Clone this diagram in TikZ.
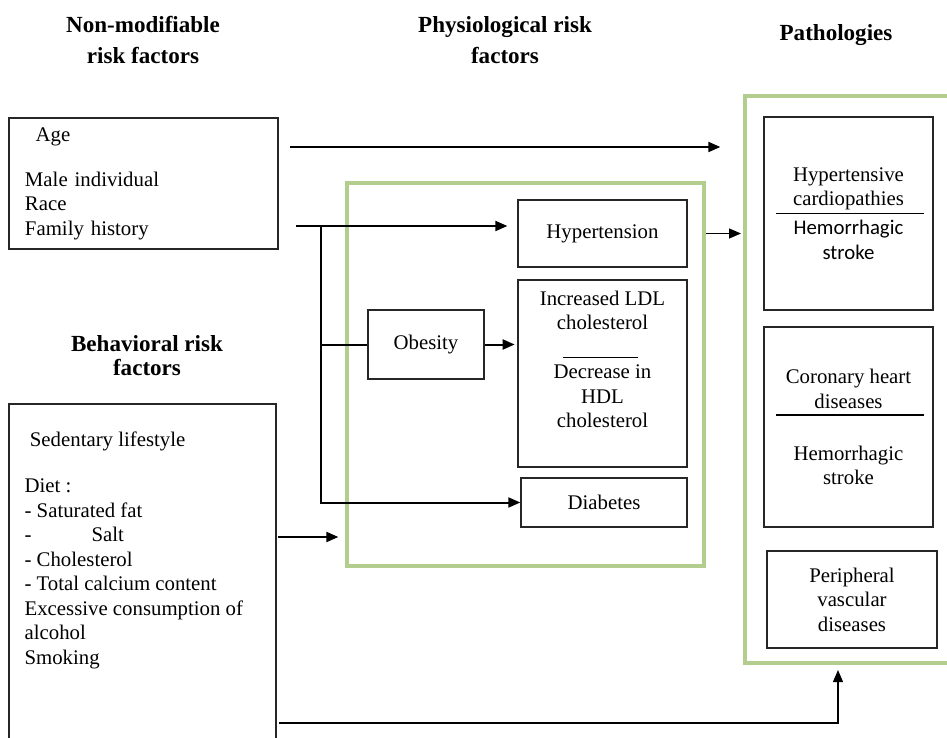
\documentclass[tikz,border=0pt]{standalone}
\usepackage{fontspec}
\setmainfont{Liberation Serif}
\newfontfamily\calfont{Carlito}
\usetikzlibrary{arrows.meta, positioning, calc}
\definecolor{groupgreen}{RGB}{178,205,142}

\begin{document}
\begin{tikzpicture}[
    x=0.75pt, y=-0.75pt,
    box/.style={draw=black!85, line width=1pt, align=center, inner sep=0pt, font=\fontsize{15.6}{18.4}\selectfont},
    group box/.style={draw=groupgreen, line width=3pt, inner sep=0pt},
    heading/.style={font=\fontsize{17.3}{23}\selectfont\bfseries, align=center},
    body/.style={font=\fontsize{15.6}{18.4}\selectfont, align=left, inner sep=0pt},
    link/.style={line width=1.5pt, -{Triangle[length=9pt, width=7.5pt]}},
    thin link/.style={line width=0.9pt, -{Triangle[length=9pt, width=7.5pt]}},
    divider/.style={line width=1.3pt}
]
    \useasboundingbox (0,0) rectangle (947,738);
    \clip (0,0) rectangle (947,738);

    % Headings
    \node[heading] (nonmodhead) at (143,40) {Non-modifiable\\risk factors};
    \node[heading] (physhead) at (505,40) {Physiological risk\\factors};
    \node[heading] (pathohead) at (836,35) {Pathologies};
    \node[heading, font=\fontsize{17.3}{18}\selectfont\bfseries] (behavhead) at (147,356) {Behavioral risk\\factors};

    % Green groups
    \node[group box, minimum width=267.75pt, minimum height=287.25pt] (phys) at (525.5,374.5) {};
    \node[group box, minimum width=165pt, minimum height=425.25pt] (patho) at (855,379.5) {};

    % Risk factor boxes
    \node[box, align=left, minimum width=201.75pt, minimum height=98.25pt, text width=177.75pt] (nonmod) at (143.5,183.5)
        {\hspace*{8pt}Age\\[15.4pt]Male individual\\Race\\Family history};
    \node[box, minimum width=200.25pt, minimum height=267pt] (behav) at (142.5,582) {};
    \node[body, below right=21pt and 12pt of behav.north west] (dietlist)
        {\hspace*{4pt}Sedentary lifestyle\\[16.5pt]Diet :\\- Saturated fat\\-\hspace*{45pt}Salt\\- Cholesterol\\- Total calcium content\\Excessive consumption of\\alcohol\\Smoking};

    % Physiological risk factors
    \node[box, minimum width=126.75pt, minimum height=50.25pt] (hyp) at (602.5,233.5) {Hypertension};
    \node[box, minimum width=126.75pt, minimum height=140.25pt] (ldl) at (602.5,373.5) {};
    \node[body, align=center, below=8.25pt of ldl.north] (ldltext)
        {Increased LDL\\cholesterol\\[18.4pt]Decrease in\\HDL\\cholesterol};
    \node[box, minimum width=124.5pt, minimum height=36.75pt] (diab) at (604,502.5) {Diabetes};
    \node[box, minimum width=87pt, minimum height=51.75pt] (obes) at (426,344.5) {Obesity};

    % Pathologies
    \node[box, minimum width=126.75pt, minimum height=144.75pt] (hc) at (848.5,213.5)
        {Hypertensive\\cardiopathies\\[3.4pt]{\calfont Hemorrhagic}\\{\calfont stroke}};
    \node[box, minimum width=126.75pt, minimum height=150pt] (chd) at (848.5,427)
        {Coronary heart\\diseases\\[20.6pt]Hemorrhagic\\stroke};
    \node[box, minimum width=127.5pt, minimum height=72.75pt] (periph) at (852,599.5)
        {Peripheral\\vascular\\diseases};

    \draw[divider] ($(hc.west)+(13,0)$) -- ($(hc.east)+(-10,0)$);
    \draw[divider] ($(chd.west)+(13,-12)$) -- ($(chd.east)+(-10,-12)$);
    \draw[line width=0.8pt] ($(ldl.north)+(-39.5,78)$) -- ++(75,0);

    % Connectors
    \coordinate (agefrom) at (290,147);
    \coordinate (famfrom) at (296,226);
    \coordinate (fork) at (321,226);
    \coordinate (dietout) at (278,537);
    \coordinate (lowfrom) at (279,723);
    \coordinate (lowto) at (838,670);

    \draw[link, shorten >=17pt] (agefrom) -- (agefrom -| patho.west);
    \draw[link, shorten >=7.5pt] (famfrom) -- (famfrom -| hyp.west);
    \draw[link] (fork) |- (diab.west);
    \draw[line width=1.5pt] (fork |- obes.west) -- (obes.west);
    \draw[link, shorten >=2pt] (obes.east) -- (obes.east -| ldl.west);
    \draw[thin link, shorten >=1.5pt] (hyp.east -| phys.east) -- (hyp.east -| patho.west);
    \draw[link, shorten >=5pt] (dietout) -- (dietout -| phys.west);
    \draw[thin link] (lowfrom) -| (lowto);
\end{tikzpicture}
\end{document}
